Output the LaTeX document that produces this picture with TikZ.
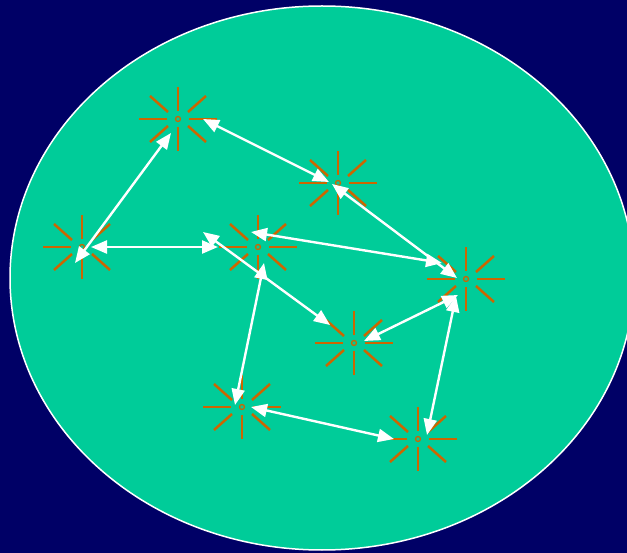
\documentclass[tikz,border=0pt]{standalone}
\usepackage{tikz}
\usetikzlibrary{arrows.meta,calc}
\definecolor{Night}{HTML}{000066}
\definecolor{Sea}{HTML}{00CC99}
\definecolor{Flare}{HTML}{CC6600}
\tikzset{
  field/.style={draw=white,fill=Sea,line width=1.5pt},
  spark/.style={circle,draw=Flare,line width=1.3pt,minimum size=5pt,inner sep=0pt},
  ray/.style={draw=Flare,line width=2.5pt},
  link/.style={{Triangle[length=16pt,width=13pt]}-{Triangle[length=16pt,width=13pt]},draw=white,line width=2.4pt}
}
\begin{document}
\begin{tikzpicture}[x=1pt,y=-1pt]
      \useasboundingbox (0,0) rectangle (627,553);
      \clip (0,0) rectangle (627,553);
      \fill[Night] (0,0) rectangle (627,553);
      \path[field] (322,278) ellipse [x radius=312pt,y radius=272pt];

      \node[spark] (a) at (178,119) {};
      \node[spark] (b) at (82,247) {};
      \node[spark] (c) at (258,247) {};
      \node[spark] (d) at (338,183) {};
      \node[spark] (e) at (466,279) {};
      \node[spark] (f) at (354,343) {};
      \node[spark] (g) at (242,407) {};
      \node[spark] (h) at (418,439) {};
      \foreach \n in {a,b,c,d,e,f,g,h} {
        \draw[ray,shift={(\n)}] (11,0) -- (39,0) (-11,0) -- (-39,0) (0,8) -- (0,32) (0,-8) -- (0,-32);
        \foreach \sx/\sy in {1/1,1/-1,-1/1,-1/-1}
          \draw[ray,shift={(\n)}] (10*\sx,7*\sy) -- (28*\sx,23*\sy);
      }

      \draw[link] ($(a)+(-7,14)$) -- ($(b)+(-7,16)$);
      \draw[link] ($(a)+(25,0)$) -- ($(d)+(-9,-1)$);
      \draw[link] ($(b)+(9,0)$) -- ($(c)+(-40,0)$);
      \draw[link] ($(c)+(-55,-15)$) -- ($(f)+(-24,-18)$);
      \draw[link] ($(c)+(-7,-15)$) -- ($(e)+(-24,-16)$);
      \draw[link] ($(d)+(-6,1)$) -- ($(e)+(-9,-1)$);
      \draw[link] ($(f)+(10,-2)$) -- ($(e)+(-8,16)$);
      \draw[link] ($(e)+(-10,17)$) -- ($(h)+(9,-4)$);
      \draw[link] ($(c)+(6,16)$) -- ($(g)+(-7,-2)$);
      \draw[link] ($(g)+(9,0)$) -- ($(h)+(-24,0)$);
    \end{tikzpicture}
\end{document}
